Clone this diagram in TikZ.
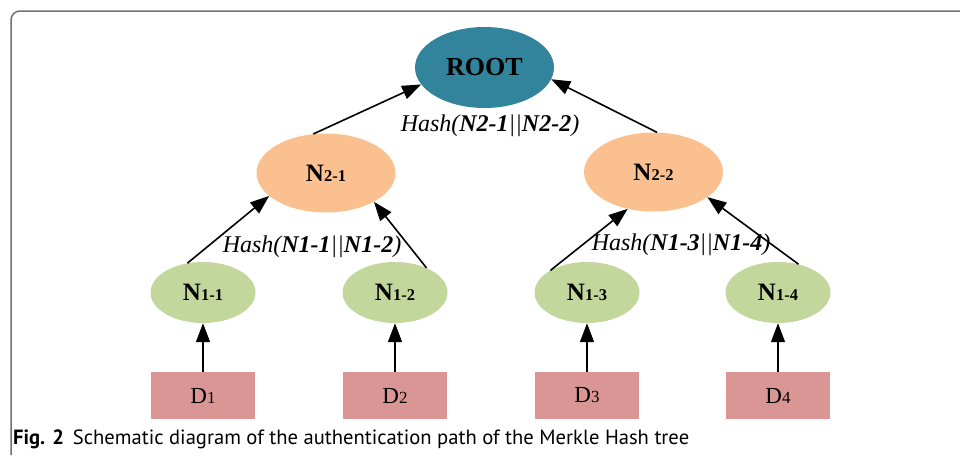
\documentclass[tikz,border=0pt]{standalone}
\usepackage{fontspec}
\setmainfont{Liberation Serif}
\newfontfamily\capfont{PT Sans}
\usetikzlibrary{arrows.meta,shapes.geometric}
\definecolor{rootblue}{HTML}{31849B}
\definecolor{peach}{HTML}{FAC090}
\definecolor{leafgreen}{HTML}{C3D69B}
\definecolor{datared}{HTML}{D99694}
\definecolor{framegray}{HTML}{707070}

\begin{document}
\begin{tikzpicture}[x=1pt, y=-1pt,
top/.style  = {ellipse, fill=rootblue, inner sep=0pt, minimum width=139pt, minimum height=81pt,
               font=\fontsize{26}{26}\selectfont\bfseries},
mid/.style  = {ellipse, fill=peach, inner sep=0pt, minimum width=139pt, minimum height=79pt,
               font=\fontsize{25}{25}\selectfont\bfseries},
leaf/.style = {ellipse, fill=leafgreen, inner sep=0pt, minimum width=105pt, minimum height=61pt,
               font=\fontsize{25}{25}\selectfont\bfseries},
data/.style = {rectangle, fill=datared, inner sep=0pt, minimum width=104pt, minimum height=47pt,
               font=\fontsize{23}{23}\selectfont},
hash/.style = {inner sep=0pt, font=\fontsize{24}{24}\selectfont\itshape},
arr/.style  = {-{Triangle[length=19pt,width=14pt]}, line width=1.6pt}
                        ]
\useasboundingbox (0,0) rectangle (960,455);
%
\draw[framegray, line width=1.5pt, rounded corners=9pt] (11,455) -- (11,11) -- (960,11);
%
\node[top] (root) at (484.5,67.5) {ROOT};
\node[mid] (n21) at (326,173) {N{\fontsize{16.5}{16.5}\selectfont 2-1}};
\node[mid] (n22) at (653.5,172) {N{\fontsize{16.5}{16.5}\selectfont 2-2}};
%
    \foreach \i/\x in {1/203, 2/395, 3/587, 4/778}
{
    \node[leaf] (n1\i) at (\x,292.5) {N{\fontsize{16.5}{16.5}\selectfont 1-\i}};
    \node[data] (d\i) at (\x,395.5) {D{\fontsize{17}{17}\selectfont\i}};
    \draw[arr] (d\i) -- (n1\i);
}
%
\draw[arr] (n11.118) -- (n21.-158);
\draw[arr] (n12.38) -- (n21.-31);
\draw[arr] (n13.149) -- (n22.-125);
\draw[arr] (n14.54) -- (n22.-25);
\draw[arr] (n21.108) -- (root.-165);
\draw[arr] (n22.85) -- (root.-10);
%
\node[hash] (h2) at (490,126) {Hash(\textbf{N2-1}||\textbf{N2-2})};
\node[hash] (h11) at (312,247) {Hash(\textbf{N1-1}||\textbf{N1-2})};
\node[hash] (h12) at (681,245) {Hash(\textbf{N1-3}||\textbf{N1-4})};
%
\node[anchor=base west, inner sep=0pt, font=\capfont\fontsize{20.6}{20.6}\selectfont] (cap) at (13,444)
    {\textbf{Fig. 2}\hspace{9pt}Schematic diagram of the authentication path of the Merkle Hash tree};
\end{tikzpicture}
\end{document}
